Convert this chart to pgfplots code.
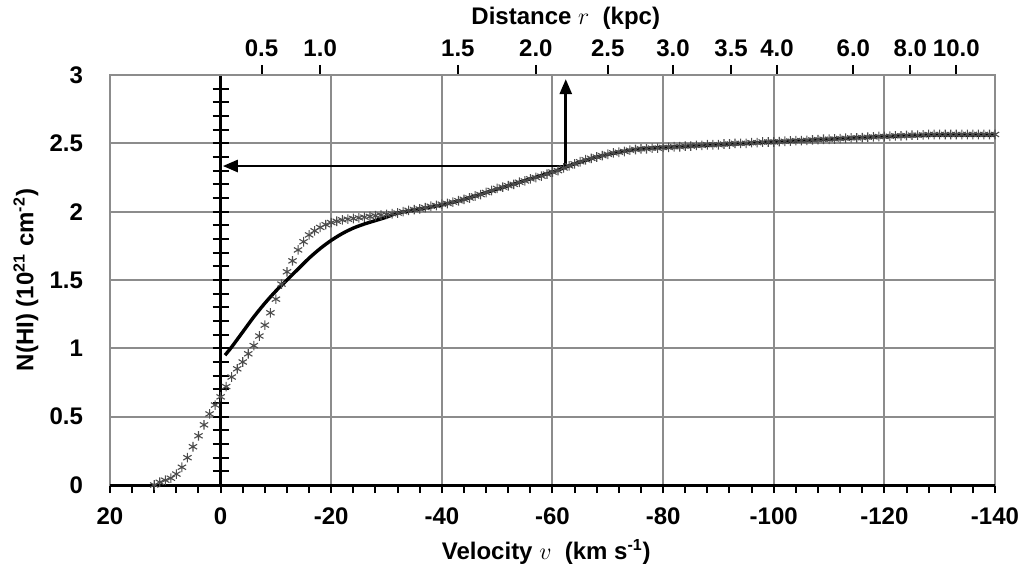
\documentclass[border=0pt]{standalone}
\usepackage{fontspec}
\setmainfont{Liberation Sans}
\usepackage{pgfplots}
\pgfplotsset{compat=1.18}
\usepackage{pgfplotstable}
\usetikzlibrary{arrows.meta}

\definecolor{gridgray}{gray}{0.55}
\definecolor{markgray}{gray}{0.3}

% measured N(HI) column density (markers)
\pgfplotstableread{
v N
12 0.00
11 0.02
10 0.035
9 0.05
8 0.08
7 0.13
6 0.20
5 0.28
4 0.36
3 0.44
2 0.52
1 0.585
0 0.645
-1 0.72
-2 0.79
-3 0.85
-4 0.90
-5 0.96
-6 1.02
-7 1.09
-8 1.17
-9 1.26
-10 1.36
-11 1.47
-12 1.56
-13 1.64
-14 1.72
-15 1.78
-16 1.83
-17 1.86
-18 1.885
-19 1.905
-20 1.92
-21 1.93
-22 1.94
-23 1.945
-24 1.95
-25 1.955
-26 1.96
-27 1.965
-28 1.97
-29 1.975
-30 1.98
-31 1.985
-32 1.99
-33 2.00
-34 2.01
-35 2.015
-36 2.02
-37 2.03
-38 2.04
-39 2.045
-40 2.055
-41 2.06
-42 2.07
-43 2.08
-44 2.09
-45 2.10
-46 2.115
-47 2.125
-48 2.14
-49 2.155
-50 2.17
-51 2.18
-52 2.19
-53 2.20
-54 2.215
-55 2.225
-56 2.24
-57 2.25
-58 2.26
-59 2.275
-60 2.29
-61 2.30
-62 2.32
-63 2.335
-64 2.35
-65 2.365
-66 2.38
-67 2.39
-68 2.40
-69 2.41
-70 2.42
-71 2.43
-72 2.435
-73 2.44
-74 2.45
-75 2.455
-76 2.46
-77 2.46
-78 2.465
-79 2.465
-80 2.47
-81 2.47
-82 2.475
-83 2.475
-84 2.48
-85 2.48
-86 2.485
-87 2.485
-88 2.49
-89 2.49
-90 2.49
-91 2.495
-92 2.495
-93 2.50
-94 2.50
-95 2.50
-96 2.505
-97 2.505
-98 2.51
-99 2.51
-100 2.51
-101 2.512
-102 2.515
-103 2.517
-104 2.52
-105 2.52
-106 2.522
-107 2.525
-108 2.527
-109 2.53
-110 2.53
-111 2.532
-112 2.535
-113 2.537
-114 2.54
-115 2.54
-116 2.542
-117 2.545
-118 2.547
-119 2.55
-120 2.55
-121 2.552
-122 2.555
-123 2.555
-124 2.557
-125 2.56
-126 2.56
-127 2.562
-128 2.565
-129 2.565
-130 2.565
-131 2.565
-132 2.565
-133 2.565
-134 2.565
-135 2.565
-136 2.565
-137 2.565
-138 2.565
-139 2.565
-140 2.565
}\obsdata

% model curve (solid line)
\pgfplotstableread{
v N
-0.8 0.95
-2 1.01
-4 1.12
-6 1.23
-8 1.33
-10 1.42
-12 1.50
-14 1.58
-16 1.66
-18 1.73
-20 1.79
-22 1.84
-24 1.88
-26 1.91
-28 1.935
-30 1.96
-32 1.99
-36 2.02
-40 2.05
-44 2.09
-48 2.14
-52 2.19
-56 2.24
-60 2.29
-64 2.35
-68 2.40
-72 2.435
-76 2.46
-80 2.47
-90 2.49
-100 2.51
-110 2.53
-120 2.55
-130 2.56
-140 2.56
}\modeldata

\begin{document}
\begin{tikzpicture}
\pgfplotsset{
    every tick label/.append style={font=\fontsize{12}{14}\selectfont\bfseries},
    label style={font=\fontsize{12}{14}\selectfont\bfseries},
}
\begin{axis}[
    scale only axis, width=442.5pt, height=205pt,
    xmin=-140, xmax=20, x dir=reverse,
    ymin=0, ymax=3,
    xtick={20,0,-20,-40,-60,-80,-100,-120,-140},
    xticklabels={20,0,-20,-40,-60,-80,-100,-120,-140},
    minor x tick num=4,
    ytick={0,0.5,1,1.5,2,2.5,3},
    yticklabels={0,0.5,1,1.5,2,2.5,3},
    xtick pos=bottom, tick align=outside,
    major tick length=4pt, minor tick length=4pt,
    x tick style={black, line width=1pt},
    ytick style={draw=none},
    grid=major,
    major grid style={gridgray, line width=1pt},
    axis line style={gridgray, line width=1pt},
    xticklabel style={yshift=-4pt},
    yticklabel style={xshift=-6pt},
    xlabel={Velocity $v$\ \ (km s\textsuperscript{-1})},
    xlabel style={at={(axis description cs:0.493,-0.163)}, anchor=center},
    ylabel={N(HI) (10\textsuperscript{21} cm\textsuperscript{-2})},
    ylabel style={at={(axis description cs:-0.095,0.5)}, anchor=center},
    clip=false,
]
\addplot[only marks, mark=asterisk, mark size=2.4pt, markgray, mark options={line width=0.55pt}]
    table[x=v, y=N] {\obsdata};
\addplot[black, line width=1.7pt, smooth] table[x=v, y=N] {\modeldata};

% vertical axis through v = 0 with ticks every 0.1
\draw[black, line width=1.5pt] (axis cs:0,0) -- (axis cs:0,3);
\pgfplotsinvokeforeach{1,...,30}{
    \draw[black, line width=1.1pt] ([xshift=-4pt]axis cs:0,#1*0.1) -- ([xshift=4pt]axis cs:0,#1*0.1);
}
% bottom axis line
\draw[black, line width=1.5pt] (axis cs:20,0) -- (axis cs:-140,0);

% arrows
\draw[black, line width=1.3pt, -{Triangle[length=7.5pt, width=6pt]}]
    (axis cs:-62.4,2.334) -- (axis cs:-62.4,2.97);
\draw[black, line width=1.3pt, -{Triangle[length=7.5pt, width=6pt]}]
    (axis cs:-62.4,2.334) -- (axis cs:-0.4,2.334);
\end{axis}

\begin{axis}[
    scale only axis, width=442.5pt, height=205pt,
    xmin=-140, xmax=20, x dir=reverse,
    ymin=0, ymax=3,
    axis x line*=top, hide y axis,
    axis line style={gridgray, line width=1pt},
    xtick={-7.4,-18.0,-42.9,-57.0,-70.0,-81.8,-92.3,-100.6,-114.4,-124.7,-133.0},
    xticklabels={0.5,1.0,1.5,2.0,2.5,3.0,3.5,4.0,6.0,8.0,10.0},
    tick align=outside, major tick length=5pt,
    x tick style={black, line width=1pt},
    xticklabel style={yshift=0.5pt},
    clip=false,
]
\node[font=\fontsize{12}{14}\selectfont\bfseries] at (axis description cs:0.515,1.139) {Distance $r$\ \ (kpc)};
\end{axis}

\pgfresetboundingbox
\path ([shift={(-55pt,-43.5pt)}]current axis.south west)
    rectangle ([shift={(13pt,37.5pt)}]current axis.north east);
\end{tikzpicture}
\end{document}
